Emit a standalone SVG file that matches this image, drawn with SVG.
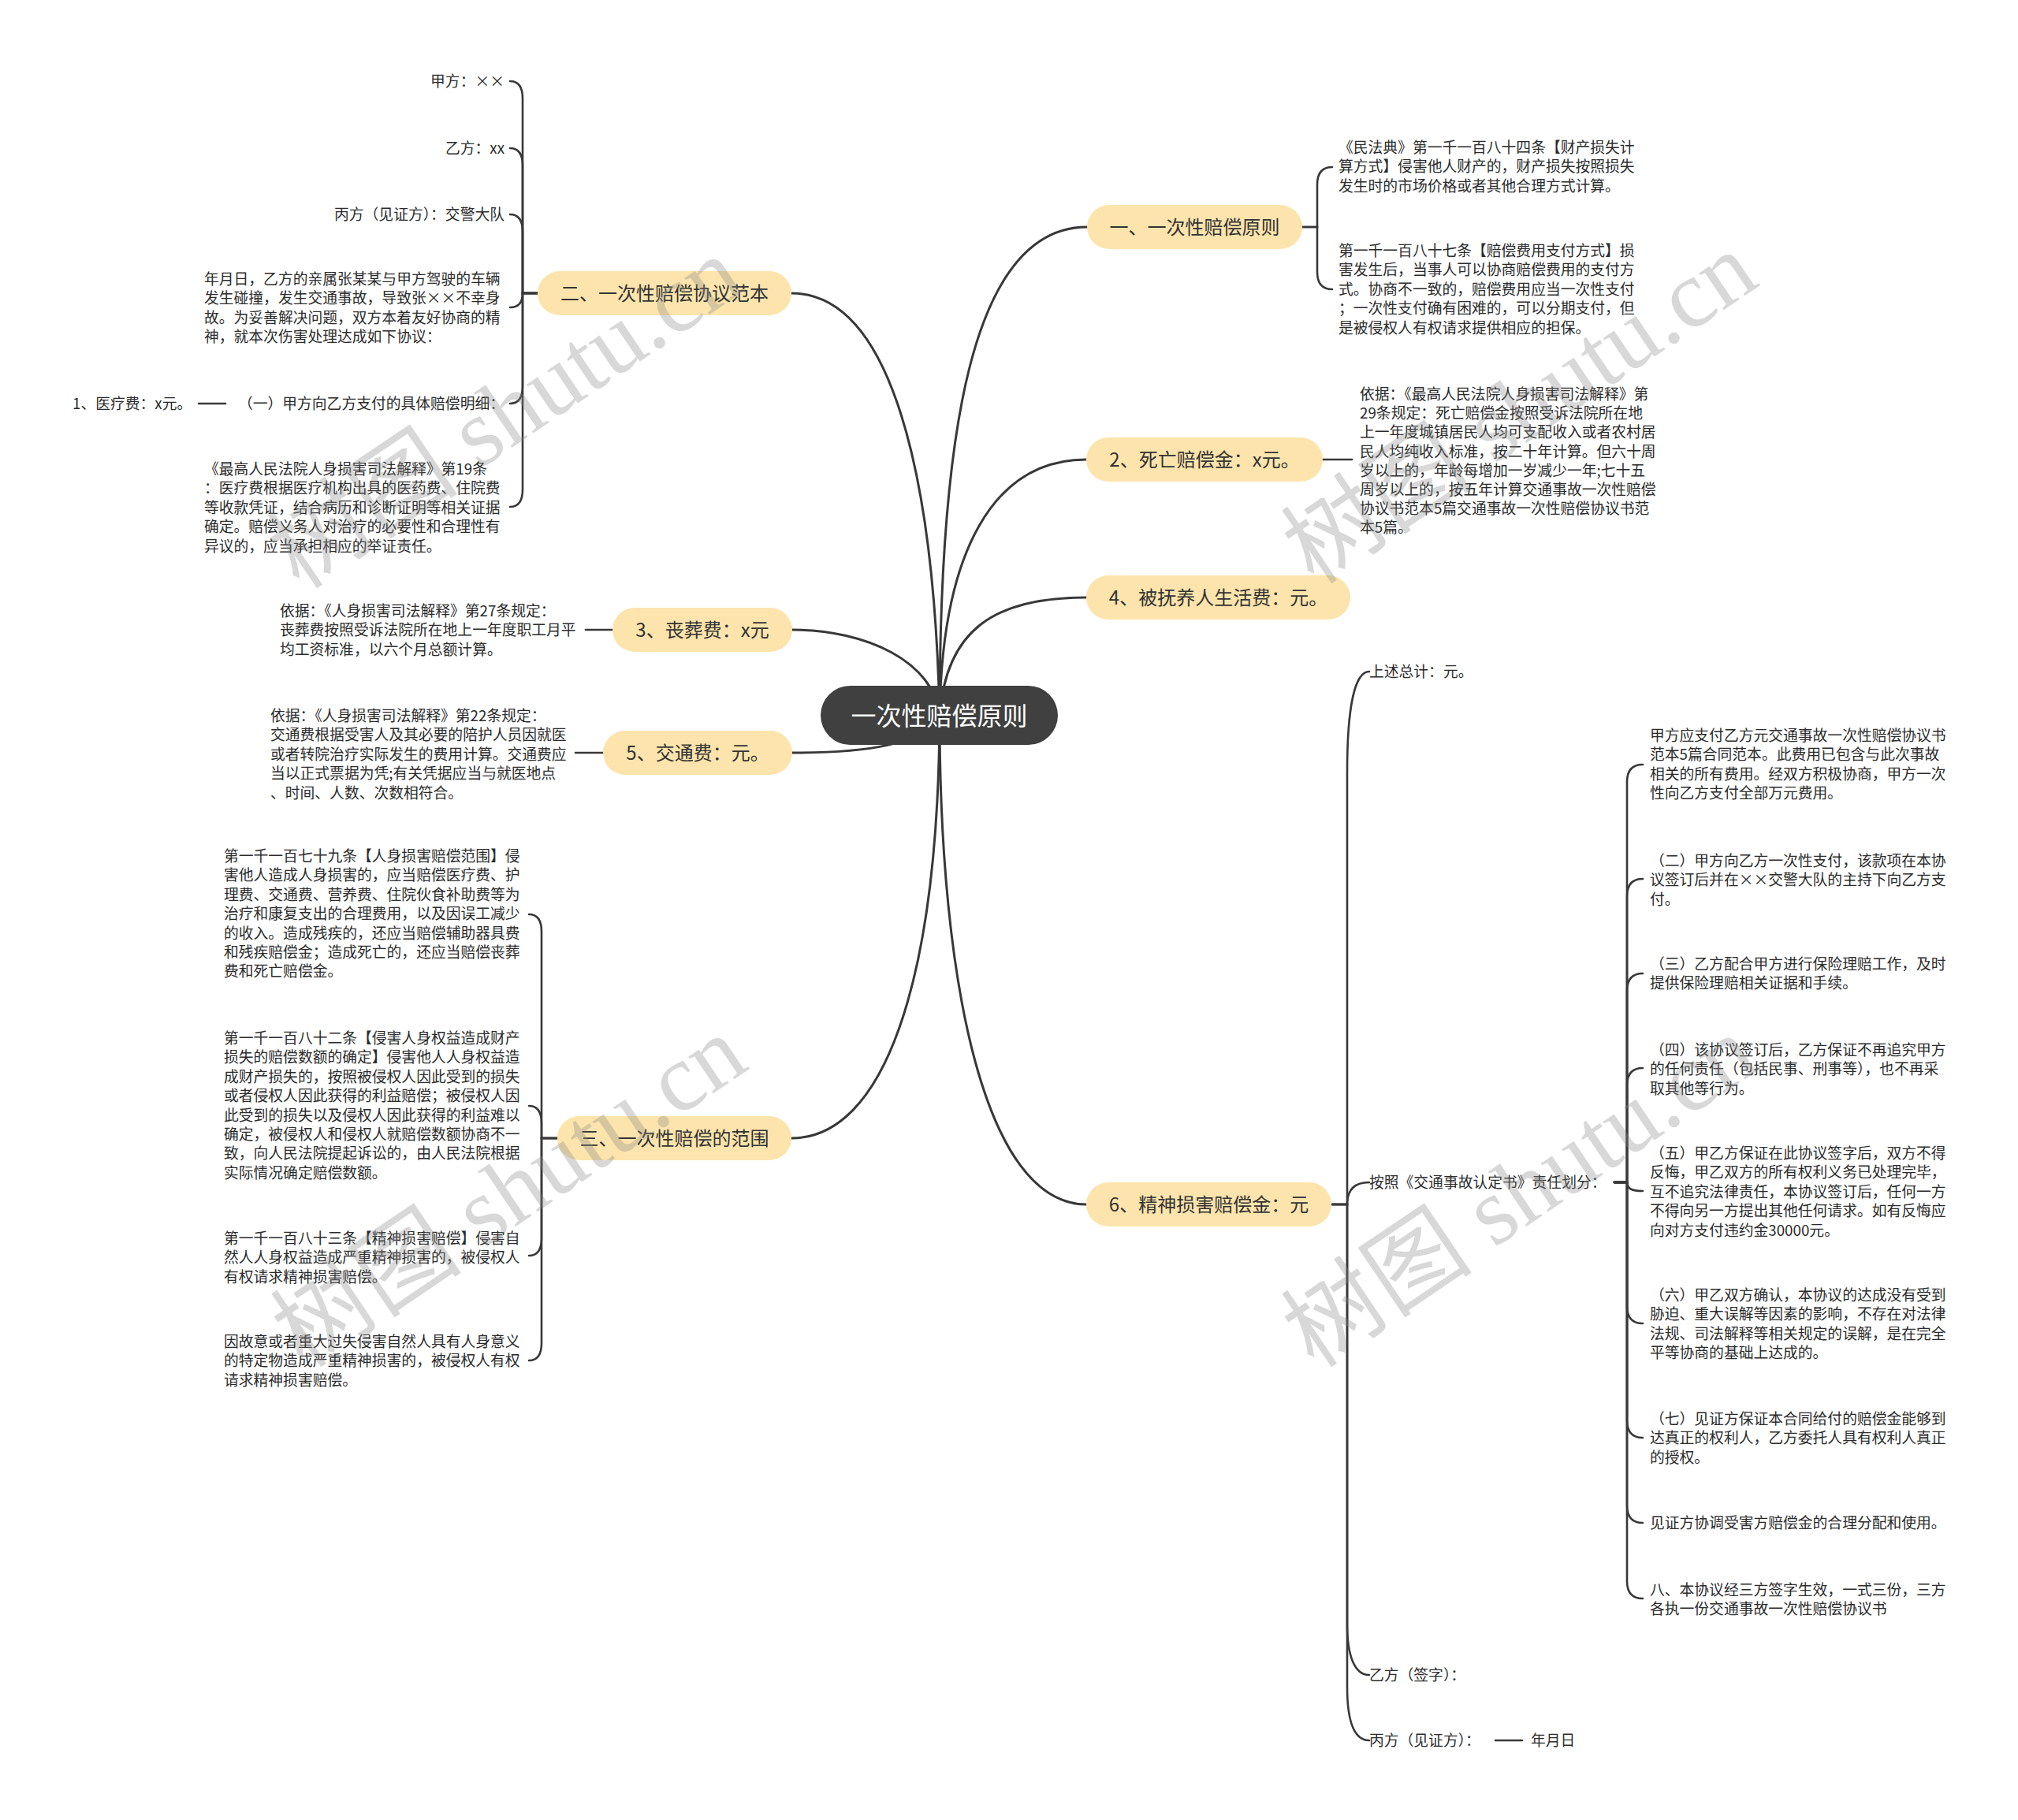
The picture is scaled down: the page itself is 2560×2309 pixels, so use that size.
<svg xmlns="http://www.w3.org/2000/svg" width="2560" height="2309" viewBox="0 0 2560 2309">
<style>
.bg{fill:#ffffff}
.n rect{fill:#FCE4AC}
.t{font-family:"Noto Sans CJK SC","Noto Sans",sans-serif;fill:#2b2b2b}
.s{font-size:18.8px}
.b{font-size:24px;text-anchor:middle;fill:#333}
.e{text-anchor:end}
.ctr rect{fill:#404040}
.ctr text{font-family:"Noto Sans CJK SC","Noto Sans",sans-serif;font-size:32px;fill:#ffffff;text-anchor:middle}
.c path{fill:none;stroke:#383838;stroke-width:3;stroke-linecap:round}
.c .k{stroke-width:2.6}
.wm{font-family:"Liberation Serif","Noto Sans CJK SC",serif;font-size:122px;fill:#8a8a8a;opacity:0.33;text-anchor:middle}
</style>
<rect class="bg" x="0" y="0" width="2560" height="2309"/>

<g id="connectors" class="c">
  <path d="M1192,908 C1185,600 1130,372 1004,372"/>
  <path d="M1192,908 C1192,560 1230,288 1379,288"/>
  <path d="M1192,908 C1195,700 1260,583 1378,583"/>
  <path d="M1192,908 C1200,800 1260,758 1378,758"/>
  <path d="M1192,908 C1185,840 1100,799 1005,799"/>
  <path d="M1192,908 C1170,945 1100,955 1005,955"/>
  <path d="M1192,908 C1190,1250 1120,1444 1004,1444"/>
  <path d="M1192,908 C1192,1250 1250,1528 1378,1528"/>
  <path class="k" d="M682,372 H663 V125 Q663,103 647,103"/>
  <path class="k" d="M682,372 H663 V210 Q663,188 647,188"/>
  <path class="k" d="M682,372 H663 V294 Q663,272 647,272"/>
  <path class="k" d="M682,372 H663 Q663,390 647,390"/>
  <path class="k" d="M682,372 H663 V490 Q663,512 647,512"/>
  <path class="k" d="M682,372 H663 V621 Q663,643 647,643"/>
  <path class="k" d="M286,512 H252"/>
  <path class="k" d="M1652,288 H1671 V234 Q1671,212 1690,212"/>
  <path class="k" d="M1652,288 H1671 V345 Q1671,367 1690,367"/>
  <path class="k" d="M1678,583 H1715"/>
  <path class="k" d="M777,799 H743"/>
  <path class="k" d="M765,955 H730"/>
  <path class="k" d="M707,1444 H687 V1182 Q687,1160 671,1160"/>
  <path class="k" d="M707,1444 H687 V1425 Q687,1403 671,1403"/>
  <path class="k" d="M707,1444 H687 V1571 Q687,1593 671,1593"/>
  <path class="k" d="M707,1444 H687 V1704 Q687,1726 671,1726"/>
  <path class="k" d="M1690,1528 H1709 V980 C1709,900 1718,852 1737,852"/>
  <path class="k" d="M1690,1528 H1709 C1709,1508 1720,1500 1737,1500"/>
  <path class="k" d="M1690,1528 H1709 V2060 C1709,2100 1718,2125 1737,2125"/>
  <path class="k" d="M1690,1528 H1709 V2140 C1709,2185 1718,2208 1737,2208"/>
  <path class="k" d="M1897,2208 H1931"/>
  <path class="k" d="M2048,1500 H2064 V992 Q2064,970 2084,970"/>
  <path class="k" d="M2048,1500 H2064 V1137 Q2064,1115 2084,1115"/>
  <path class="k" d="M2048,1500 H2064 V1257 Q2064,1235 2084,1235"/>
  <path class="k" d="M2048,1500 H2064 V1377 Q2064,1355 2084,1355"/>
  <path class="k" d="M2048,1500 H2064 C2064,1508 2070,1511 2084,1511"/>
  <path class="k" d="M2048,1500 H2064 V1657 Q2064,1679 2084,1679"/>
  <path class="k" d="M2048,1500 H2064 V1802 Q2064,1824 2084,1824"/>
  <path class="k" d="M2048,1500 H2064 V1910 Q2064,1932 2084,1932"/>
  <path class="k" d="M2048,1500 H2064 V2006 Q2064,2028 2084,2028"/>
</g>

<g id="center" class="ctr">
  <rect x="1041" y="870" width="301" height="75" rx="37.5"/>
  <text x="1191.5" y="920">一次性赔偿原则</text>
</g>

<g id="n-er" class="n"><rect x="682" y="344" width="322" height="56" rx="28"/><text class="t b" x="843" y="381">二、一次性赔偿协议范本</text></g>
<g id="n-yi" class="n"><rect x="1379" y="260" width="273" height="56" rx="28"/><text class="t b" x="1515.5" y="297">一、一次性赔偿原则</text></g>
<g id="n-2" class="n"><rect x="1378" y="555" width="300" height="56" rx="28"/><text class="t b" x="1528" y="592">2、死亡赔偿金：x元。</text></g>
<g id="n-4" class="n"><rect x="1378" y="730" width="335" height="56" rx="28"/><text class="t b" x="1545.5" y="767">4、被抚养人生活费：元。</text></g>
<g id="n-3" class="n"><rect x="777" y="771" width="228" height="56" rx="28"/><text class="t b" x="891" y="808">3、丧葬费：x元</text></g>
<g id="n-5" class="n"><rect x="765" y="927" width="240" height="56" rx="28"/><text class="t b" x="885" y="964">5、交通费：元。</text></g>
<g id="n-san" class="n"><rect x="707" y="1416" width="297" height="56" rx="28"/><text class="t b" x="855.5" y="1453">三、一次性赔偿的范围</text></g>
<g id="n-6" class="n"><rect x="1378" y="1500" width="311" height="56" rx="28"/><text class="t b" x="1533.5" y="1537">6、精神损害赔偿金：元</text></g>

<g id="er-1"><text class="t s e" x="640" y="110">甲方：××</text></g>
<g id="er-2"><text class="t s e" x="640" y="195">乙方：xx</text></g>
<g id="er-3"><text class="t s e" x="640" y="279">丙方（见证方）：交警大队</text></g>
<g id="er-4"><text class="t s" x="259" y="361"><tspan x="259">年月日，乙方的亲属张某某与甲方驾驶的车辆</tspan><tspan x="259" dy="24.4">发生碰撞，发生交通事故，导致张××不幸身</tspan><tspan x="259" dy="24.4">故。为妥善解决问题，双方本着友好协商的精</tspan><tspan x="259" dy="24.4">神，就本次伤害处理达成如下协议：</tspan></text></g>
<g id="er-5"><text class="t s e" x="640" y="519">（一）甲方向乙方支付的具体赔偿明细：</text></g>
<g id="er-5-1"><text class="t s" x="92" y="519">1、医疗费：x元。</text></g>
<g id="er-6"><text class="t s" x="259" y="602"><tspan x="259">《最高人民法院人身损害司法解释》第19条</tspan><tspan x="259" dy="24.4">：医疗费根据医疗机构出具的医药费、住院费</tspan><tspan x="259" dy="24.4">等收款凭证，结合病历和诊断证明等相关证据</tspan><tspan x="259" dy="24.4">确定。赔偿义务人对治疗的必要性和合理性有</tspan><tspan x="259" dy="24.4">异议的，应当承担相应的举证责任。</tspan></text></g>

<g id="yi-1"><text class="t s" x="1698" y="194"><tspan x="1698">《民法典》第一千一百八十四条【财产损失计</tspan><tspan x="1698" dy="24.4">算方式】侵害他人财产的，财产损失按照损失</tspan><tspan x="1698" dy="24.4">发生时的市场价格或者其他合理方式计算。</tspan></text></g>
<g id="yi-2"><text class="t s" x="1698" y="325"><tspan x="1698">第一千一百八十七条【赔偿费用支付方式】损</tspan><tspan x="1698" dy="24.4">害发生后，当事人可以协商赔偿费用的支付方</tspan><tspan x="1698" dy="24.4">式。协商不一致的，赔偿费用应当一次性支付</tspan><tspan x="1698" dy="24.4">；一次性支付确有困难的，可以分期支付，但</tspan><tspan x="1698" dy="24.4">是被侵权人有权请求提供相应的担保。</tspan></text></g>

<g id="n2-1"><text class="t s" x="1725" y="507"><tspan x="1725">依据：《最高人民法院人身损害司法解释》第</tspan><tspan x="1725" dy="24.2">29条规定：死亡赔偿金按照受诉法院所在地</tspan><tspan x="1725" dy="24.2">上一年度城镇居民人均可支配收入或者农村居</tspan><tspan x="1725" dy="24.2">民人均纯收入标准，按二十年计算。但六十周</tspan><tspan x="1725" dy="24.2">岁以上的，年龄每增加一岁减少一年;七十五</tspan><tspan x="1725" dy="24.2">周岁以上的，按五年计算交通事故一次性赔偿</tspan><tspan x="1725" dy="24.2">协议书范本5篇交通事故一次性赔偿协议书范</tspan><tspan x="1725" dy="24.2">本5篇。</tspan></text></g>

<g id="n3-1"><text class="t s" x="355" y="782"><tspan x="355">依据：《人身损害司法解释》第27条规定：</tspan><tspan x="355" dy="24.4">丧葬费按照受诉法院所在地上一年度职工月平</tspan><tspan x="355" dy="24.4">均工资标准，以六个月总额计算。</tspan></text></g>

<g id="n5-1"><text class="t s" x="343" y="915"><tspan x="343">依据：《人身损害司法解释》第22条规定：</tspan><tspan x="343" dy="24.4">交通费根据受害人及其必要的陪护人员因就医</tspan><tspan x="343" dy="24.4">或者转院治疗实际发生的费用计算。交通费应</tspan><tspan x="343" dy="24.4">当以正式票据为凭;有关凭据应当与就医地点</tspan><tspan x="343" dy="24.4">、时间、人数、次数相符合。</tspan></text></g>

<g id="san-1"><text class="t s" x="284" y="1093"><tspan x="284">第一千一百七十九条【人身损害赔偿范围】侵</tspan><tspan x="284" dy="24.4">害他人造成人身损害的，应当赔偿医疗费、护</tspan><tspan x="284" dy="24.4">理费、交通费、营养费、住院伙食补助费等为</tspan><tspan x="284" dy="24.4">治疗和康复支出的合理费用，以及因误工减少</tspan><tspan x="284" dy="24.4">的收入。造成残疾的，还应当赔偿辅助器具费</tspan><tspan x="284" dy="24.4">和残疾赔偿金；造成死亡的，还应当赔偿丧葬</tspan><tspan x="284" dy="24.4">费和死亡赔偿金。</tspan></text></g>
<g id="san-2"><text class="t s" x="284" y="1324"><tspan x="284">第一千一百八十二条【侵害人身权益造成财产</tspan><tspan x="284" dy="24.4">损失的赔偿数额的确定】侵害他人人身权益造</tspan><tspan x="284" dy="24.4">成财产损失的，按照被侵权人因此受到的损失</tspan><tspan x="284" dy="24.4">或者侵权人因此获得的利益赔偿；被侵权人因</tspan><tspan x="284" dy="24.4">此受到的损失以及侵权人因此获得的利益难以</tspan><tspan x="284" dy="24.4">确定，被侵权人和侵权人就赔偿数额协商不一</tspan><tspan x="284" dy="24.4">致，向人民法院提起诉讼的，由人民法院根据</tspan><tspan x="284" dy="24.4">实际情况确定赔偿数额。</tspan></text></g>
<g id="san-3"><text class="t s" x="284" y="1578"><tspan x="284">第一千一百八十三条【精神损害赔偿】侵害自</tspan><tspan x="284" dy="24.4">然人人身权益造成严重精神损害的，被侵权人</tspan><tspan x="284" dy="24.4">有权请求精神损害赔偿。</tspan></text></g>
<g id="san-4"><text class="t s" x="284" y="1709"><tspan x="284">因故意或者重大过失侵害自然人具有人身意义</tspan><tspan x="284" dy="24.4">的特定物造成严重精神损害的，被侵权人有权</tspan><tspan x="284" dy="24.4">请求精神损害赔偿。</tspan></text></g>

<g id="n6-1"><text class="t s" x="1737" y="859">上述总计：元。</text></g>
<g id="n6-2"><text class="t s" x="1737" y="1507">按照《交通事故认定书》责任划分：</text></g>
<g id="n6-3"><text class="t s" x="1737" y="2132">乙方（签字）：</text></g>
<g id="n6-4"><text class="t s" x="1737" y="2215">丙方（见证方）：</text></g>
<g id="n6-4-1"><text class="t s" x="1942" y="2215">年月日</text></g>

<g id="g-a"><text class="t s" x="2093" y="940"><tspan x="2093">甲方应支付乙方元交通事故一次性赔偿协议书</tspan><tspan x="2093" dy="24.4">范本5篇合同范本。此费用已包含与此次事故</tspan><tspan x="2093" dy="24.4">相关的所有费用。经双方积极协商，甲方一次</tspan><tspan x="2093" dy="24.4">性向乙方支付全部万元费用。</tspan></text></g>
<g id="g-b"><text class="t s" x="2093" y="1099"><tspan x="2093">（二）甲方向乙方一次性支付，该款项在本协</tspan><tspan x="2093" dy="24.4">议签订后并在××交警大队的主持下向乙方支</tspan><tspan x="2093" dy="24.4">付。</tspan></text></g>
<g id="g-c"><text class="t s" x="2093" y="1230"><tspan x="2093">（三）乙方配合甲方进行保险理赔工作，及时</tspan><tspan x="2093" dy="24.4">提供保险理赔相关证据和手续。</tspan></text></g>
<g id="g-d"><text class="t s" x="2093" y="1339"><tspan x="2093">（四）该协议签订后，乙方保证不再追究甲方</tspan><tspan x="2093" dy="24.4">的任何责任（包括民事、刑事等），也不再采</tspan><tspan x="2093" dy="24.4">取其他等行为。</tspan></text></g>
<g id="g-e"><text class="t s" x="2093" y="1470"><tspan x="2093">（五）甲乙方保证在此协议签字后，双方不得</tspan><tspan x="2093" dy="24.4">反悔，甲乙双方的所有权利义务已处理完毕，</tspan><tspan x="2093" dy="24.4">互不追究法律责任，本协议签订后，任何一方</tspan><tspan x="2093" dy="24.4">不得向另一方提出其他任何请求。如有反悔应</tspan><tspan x="2093" dy="24.4">向对方支付违约金30000元。</tspan></text></g>
<g id="g-f"><text class="t s" x="2093" y="1650"><tspan x="2093">（六）甲乙双方确认，本协议的达成没有受到</tspan><tspan x="2093" dy="24.4">胁迫、重大误解等因素的影响，不存在对法律</tspan><tspan x="2093" dy="24.4">法规、司法解释等相关规定的误解，是在完全</tspan><tspan x="2093" dy="24.4">平等协商的基础上达成的。</tspan></text></g>
<g id="g-g"><text class="t s" x="2093" y="1807"><tspan x="2093">（七）见证方保证本合同给付的赔偿金能够到</tspan><tspan x="2093" dy="24.4">达真正的权利人，乙方委托人具有权利人真正</tspan><tspan x="2093" dy="24.4">的授权。</tspan></text></g>
<g id="g-h"><text class="t s" x="2093" y="1939">见证方协调受害方赔偿金的合理分配和使用。</text></g>
<g id="g-i"><text class="t s" x="2093" y="2024"><tspan x="2093">八、本协议经三方签字生效，一式三份，三方</tspan><tspan x="2093" dy="24.4">各执一份交通事故一次性赔偿协议书</tspan></text></g>

<g id="watermarks">
  <text class="wm" transform="translate(664,558) rotate(-34)">树图 shutu.cn</text>
  <text class="wm" transform="translate(1951,552) rotate(-34)">树图 shutu.cn</text>
  <text class="wm" transform="translate(669,1546) rotate(-34)">树图 shutu.cn</text>
  <text class="wm" transform="translate(1951,1546) rotate(-34)">树图 shutu.cn</text>
</g>
</svg>
